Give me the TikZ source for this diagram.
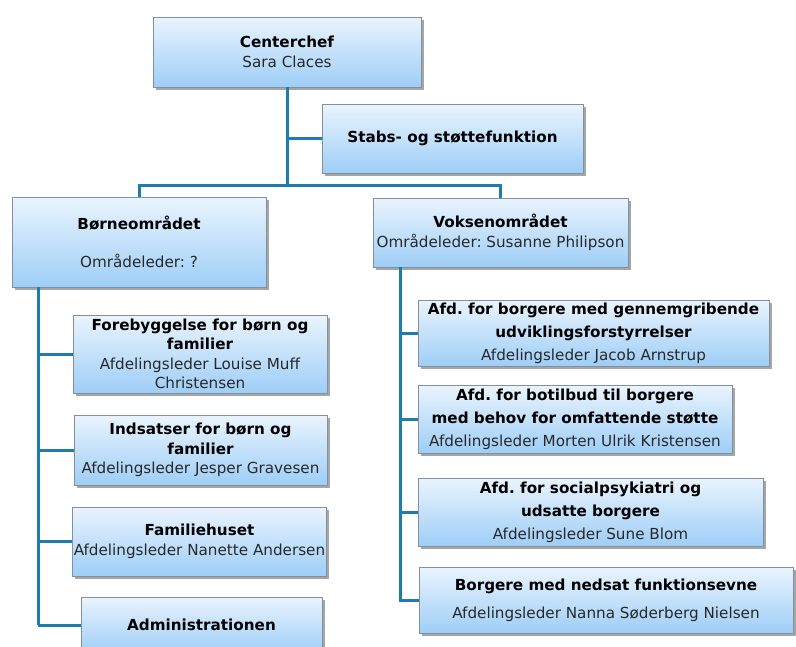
\documentclass[tikz,border=0pt]{standalone}
\usepackage{fontspec}
\setmainfont{DejaVu Sans}
\frenchspacing
\usetikzlibrary{shadows}
\definecolor{conncol}{RGB}{30,125,172}
\definecolor{boxtop}{RGB}{234,244,253}
\definecolor{boxbot}{RGB}{158,206,247}
\definecolor{boxline}{RGB}{130,145,160}
\definecolor{txt}{RGB}{40,40,40}
\tikzset{
  orgbox/.style={draw=boxline, line width=0.8pt, rectangle, align=center,
    top color=boxtop, bottom color=boxbot, text=txt, inner sep=1pt,
    font=\fontsize{15.2}{19.5}\selectfont,
    drop shadow={shadow xshift=2.5pt, shadow yshift=-2.5pt, opacity=0.35, fill=black}},
  widesp/.style={font=\fontsize{15.2}{23}\selectfont},
  widersp/.style={font=\fontsize{15.2}{28}\selectfont},
  conn/.style={draw=conncol, line width=3pt}
}
\newcommand{\hd}[1]{\textbf{\color{black}#1}}
\begin{document}
\begin{tikzpicture}[x=1pt,y=-1pt]
\useasboundingbox (0,0) rectangle (796,646);
\fill[white] (0,0) rectangle (796,646);
\coordinate (bus) at (287,185);
\coordinate (lb) at (38,287);
\coordinate (le) at (38,625);
\coordinate (rb) at (400,267);
\coordinate (re) at (400,602);

\node[orgbox, minimum width=268, minimum height=70] (cc) at (287,52) {\hd{Centerchef}\\Sara Claces};
\node[orgbox, minimum width=261, minimum height=69] (stabs) at (452.5,138.5) {\hd{Stabs- og støttefunktion}};
\node[orgbox, minimum width=254, minimum height=90] (born) at (139,242) {\hd{Børneområdet}\\[19pt]Områdeleder: ?};
\node[orgbox, minimum width=255, minimum height=69] (voks) at (500.5,232.5) {\hd{Voksenområdet}\\Områdeleder: Susanne Philipson};

\node[orgbox, minimum width=254, minimum height=78] (fore) at (200,354) {\hd{Forebyggelse for børn og}\\\hd{familier}\\Afdelingsleder Louise Muff\\Christensen};
\node[orgbox, minimum width=253, minimum height=70] (inds) at (200.5,450) {\hd{Indsatser for børn og}\\\hd{familier}\\Afdelingsleder Jesper Gravesen};
\node[orgbox, minimum width=253, minimum height=69] (fam) at (199.5,541.5) {\hd{Familiehuset}\\Afdelingsleder Nanette Andersen};
\node[orgbox, minimum width=241, minimum height=56] (adm) at (201.5,625) {\hd{Administrationen}};

\node[orgbox, widesp, minimum width=351, minimum height=66] (a1) at (593.5,333) {\hd{Afd. for borgere med gennemgribende}\\\hd{udviklingsforstyrrelser}\\Afdelingsleder Jacob Arnstrup};
\node[orgbox, widesp, minimum width=314, minimum height=68] (a2) at (575,419) {\hd{Afd. for botilbud til borgere}\\\hd{med behov for omfattende støtte}\\Afdelingsleder Morten Ulrik Kristensen};
\node[orgbox, widesp, minimum width=345, minimum height=68] (a3) at (590.5,512) {\hd{Afd. for socialpsykiatri og}\\\hd{udsatte borgere}\\Afdelingsleder Sune Blom};
\node[orgbox, widersp, minimum width=374, minimum height=66] (a4) at (606,600) {\hd{Borgere med nedsat funktionsevne}\\Afdelingsleder Nanna Søderberg Nielsen};

\draw[conn] (cc.south) -- (bus);
\draw[conn] (cc.south |- stabs.west) -- (stabs.west);
\draw[conn] (bus) -| (born.north);
\draw[conn] (bus) -| (voks.north);
\draw[conn] (lb) -- (le);
\draw[conn] (lb |- fore.west) -- (fore.west);
\draw[conn] (lb |- inds.west) -- (inds.west);
\draw[conn] (lb |- fam.west) -- (fam.west);
\draw[conn] (lb |- adm.west) -- (adm.west);
\draw[conn] (rb) -- (re);
\draw[conn] (rb |- a1.west) -- (a1.west);
\draw[conn] (rb |- a2.west) -- (a2.west);
\draw[conn] (rb |- a3.west) -- (a3.west);
\draw[conn] (rb |- a4.west) -- (a4.west);
\end{tikzpicture}
\end{document}
